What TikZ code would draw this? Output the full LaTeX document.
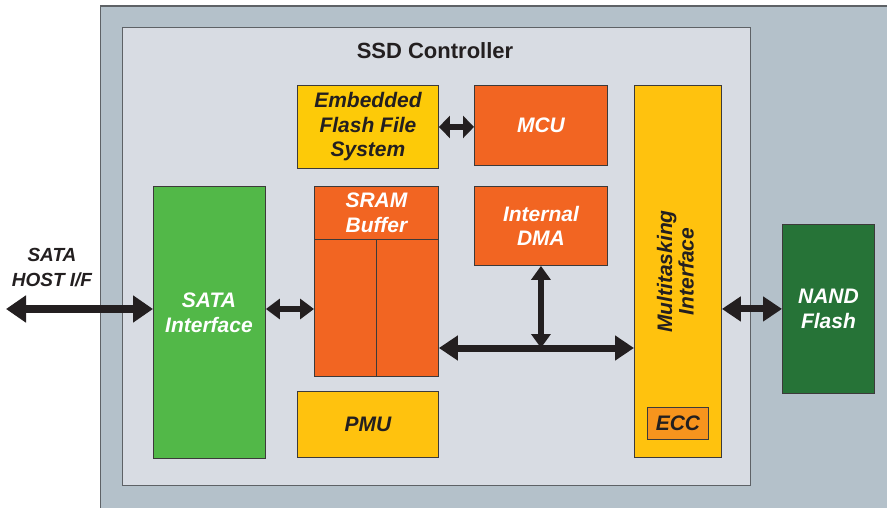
\documentclass[tikz,border=0pt]{standalone}
\usepackage{fontspec}
\setmainfont{Liberation Sans}
\usetikzlibrary{arrows.meta}
\definecolor{outerbg}{HTML}{B4C1CA}
\definecolor{innerbg}{HTML}{D8DCE3}
\definecolor{boxgreen}{HTML}{52B848}
\definecolor{effsyellow}{HTML}{FDCA08}
\definecolor{boxorange}{HTML}{F26522}
\definecolor{mtiyellow}{HTML}{FFC20E}
\definecolor{eccorange}{HTML}{F7941D}
\definecolor{nandgreen}{HTML}{267337}
\definecolor{ink}{HTML}{231F20}
\definecolor{edge}{HTML}{3C3A3A}
\definecolor{frame}{HTML}{5E6266}
\begin{document}
\begin{tikzpicture}[x=1pt,y=-1pt,
  blk/.style={draw=edge, line width=0.9pt, anchor=north west, inner sep=0pt,
    align=center, font=\fontsize{21}{24.5}\selectfont\bfseries\itshape},
  lighttext/.style={text=white},
  darktext/.style={text=ink},
  bigarrow/.style={draw=ink, line width=8pt, {Triangle[length=20pt,width=26pt]}-{Triangle[length=20pt,width=26pt]}},
  busarrow/.style={draw=ink, line width=7pt, {Triangle[length=19pt,width=24pt]}-{Triangle[length=19pt,width=24pt]}},
  linkarrow/.style={draw=ink, line width=5.5pt, {Triangle[length=14pt,width=20pt]}-{Triangle[length=14pt,width=20pt]}},
  shortarrow/.style={draw=ink, line width=6pt, {Triangle[length=11pt,width=22pt]}-{Triangle[length=11pt,width=22pt]}},
  dmaarrow/.style={draw=ink, line width=6pt, {Triangle[length=14pt,width=19pt]}-{Triangle[length=14pt,width=19pt]}},
  frm/.style={draw=frame, line width=1.3pt, anchor=north west, inner sep=0pt}
]
\useasboundingbox (0,0) rectangle (887,508);
\fill[white] (0,0) rectangle (887,508);
% outer and inner frames
\node[frm, fill=outerbg, minimum width=795pt, minimum height=502pt] (outer) at (100,5.5) {};
\node[frm, fill=innerbg, minimum width=628pt, minimum height=458pt] (inner) at (122,27) {};
\node[font=\fontsize{22}{24}\selectfont\bfseries, text=ink] (title) at (435,51) {SSD Controller};

% blocks
\node[blk, fill=boxgreen, minimum width=112pt, minimum height=272pt] (sata) at (153,186) {};
\node[font=\fontsize{21}{24.5}\selectfont\bfseries\itshape, text=white, align=center] (satalabel) at (209,313) {SATA\\Interface};

\node[blk, fill=effsyellow, darktext, minimum width=141pt, minimum height=83pt] (effs) at (297,85) {Embedded\\Flash File\\System};
\node[blk, fill=boxorange, lighttext, minimum width=133pt, minimum height=80pt] (mcu) at (474,85) {MCU};

\node[blk, fill=boxorange, minimum width=124pt, minimum height=190pt] (sram) at (314,186) {};
\node[blk, fill=boxorange, lighttext, minimum width=124pt, minimum height=53pt] (sramhead) at (314,186) {SRAM\\Buffer};
\draw[edge, line width=0.9pt] (sramhead.south -| 376,0) -- (sram.south -| 376,0);

\node[blk, fill=boxorange, lighttext, minimum width=133pt, minimum height=79pt] (dma) at (474,186) {Internal\\DMA};
\node[blk, fill=mtiyellow, darktext, minimum width=141pt, minimum height=66pt] (pmu) at (297,391) {PMU};

\node[blk, fill=mtiyellow, darktext, minimum width=87pt, minimum height=372pt] (mti) at (634,85) {\rotatebox{90}{\begin{tabular}{@{}c@{}}Multitasking\\[-3pt]Interface\end{tabular}}};
\node[blk, fill=eccorange, darktext, minimum width=61pt, minimum height=32pt] (ecc) at (647,407) {ECC};

\node[blk, fill=nandgreen, lighttext, minimum width=92pt, minimum height=169pt] (nand) at (782,224) {NAND\\Flash};

% host label
\node[font=\fontsize{19}{25}\selectfont\bfseries\itshape, text=ink, align=center] (host) at (52,268) {SATA\\HOST I/F};

% connectors
\coordinate (hostL) at (6,309);
\coordinate (busY) at (0,348);
\draw[bigarrow] (hostL) -- (hostL -| sata.west);
\draw[linkarrow] (sata.east |- hostL) -- (sram.west |- hostL);
\draw[shortarrow] (effs.east) -- (effs.east -| mcu.west);
\draw[busarrow] (sram.east |- busY) -- (mti.west |- busY);
\draw[dmaarrow] (dma.south) -- (dma.south |- busY);
\draw[busarrow] (mti.east |- nand.west) -- (nand.west);
\end{tikzpicture}
\end{document}
